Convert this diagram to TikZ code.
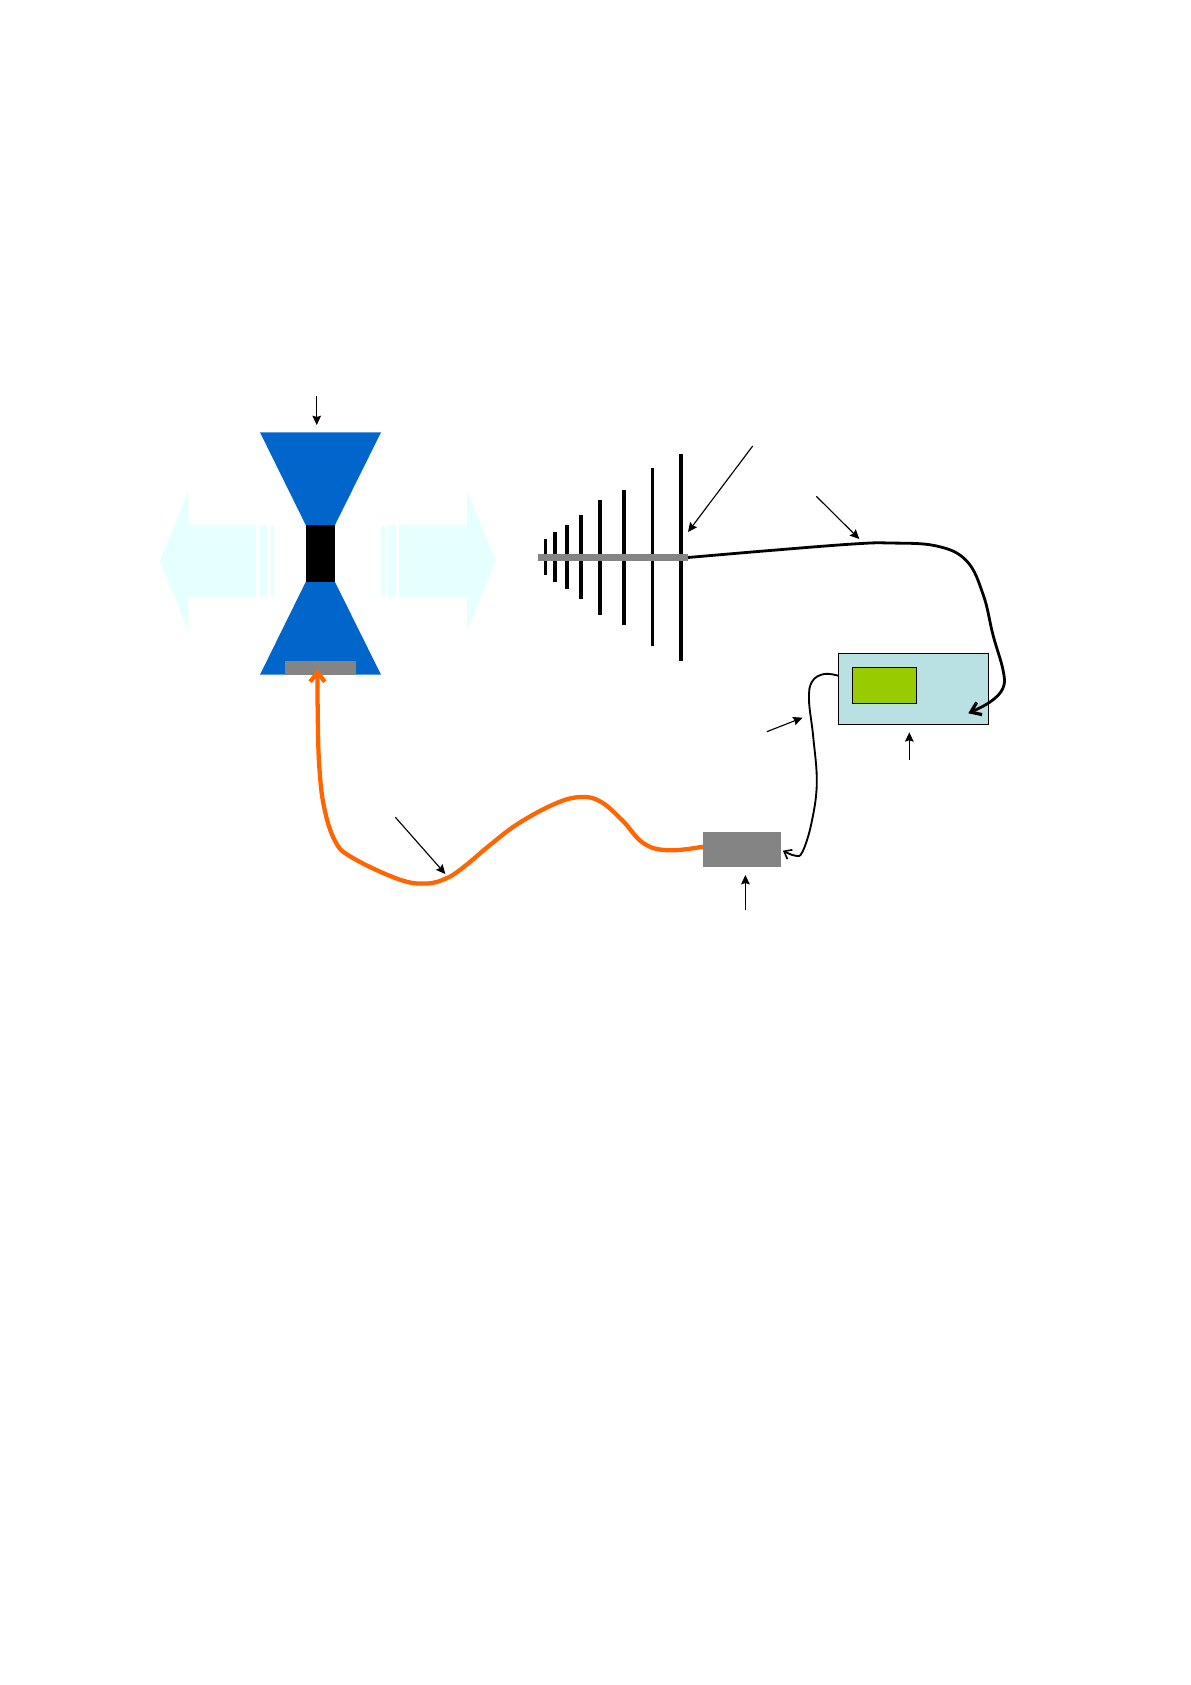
\documentclass[tikz,border=0pt]{standalone}
\usetikzlibrary{arrows.meta}
\definecolor{hornblue}{HTML}{0066CC}
\definecolor{palecyan}{HTML}{E6FFFF}
\definecolor{midgray}{HTML}{848484}
\definecolor{cableorange}{HTML}{FF6600}
\definecolor{paleteal}{HTML}{B9E0E3}
\definecolor{screengreen}{HTML}{99CC00}
\tikzset{
  x=0.75pt,y=-0.75pt,
  solidbox/.style={inner sep=0pt,outer sep=0pt,draw=none,fill=#1},
  framebox/.style={inner sep=0pt,outer sep=0pt,draw=black,line width=0.9pt,fill=#1},
  pxbox/.style 2 args={minimum width=#1*0.75pt,minimum height=#2*0.75pt},
  element/.style={draw=none,fill=black},
  pointer/.style={draw=black,line width=0.85pt,-{Stealth[length=7pt,width=6.5pt,inset=1pt]}},
  thincable/.style={draw=black,line width=1.4pt,-{Straight Barb[length=5pt,width=8pt,line width=1.2pt]}},
  thickcable/.style={draw=black,line width=2.1pt,-{Straight Barb[length=7pt,width=10pt,line width=2.4pt]}},
  orangecable/.style={draw=cableorange,line width=3.2pt,-{Straight Barb[length=7pt,width=11pt,line width=3.2pt]}},
}
\begin{document}
\begin{tikzpicture}
\useasboundingbox (0,0) rectangle (1191,1685);
\fill[white] (0,0) rectangle (1191,1685);
% pale radiation arrows
\fill[palecyan] (160,561) -- (188.3,490.7) -- (188.3,525) -- (256,525) -- (256,597) -- (188.3,597) -- (188.3,631) -- cycle;
\fill[palecyan] (260,525) rectangle (267,597);
\fill[palecyan] (270.7,525) rectangle (274,597);
\fill[palecyan] (495.7,561) -- (467,490.7) -- (467,525) -- (399,525) -- (399,597) -- (467,597) -- (467,631) -- cycle;
\fill[palecyan] (388,525) rectangle (396,597);
\fill[palecyan] (381,525) rectangle (385,597);
% horn
\fill[hornblue] (260,432.3) -- (381,432.3) -- (335,525) -- (305.7,525) -- cycle;
\fill[hornblue] (305.7,582) -- (335,582) -- (381,674.7) -- (260,674.7) -- cycle;
\node[solidbox=black,pxbox={29.3}{57}] (throat) at (320.35,553.5) {};
\node[solidbox=midgray,pxbox={71}{14}] (feed) at (320.5,668) {};
% log-periodic antenna
\fill[element] (543.8,539) rectangle (546.8,575);
\fill[element] (553,532) rectangle (557,582);
\fill[element] (565,525) rectangle (569,589);
\fill[element] (579,515) rectangle (583,599);
\fill[element] (598,499.7) rectangle (602,614.7);
\fill[element] (622,490) rectangle (626,625);
\fill[element] (650.8,468) rectangle (653.8,646);
\fill[element] (679,454) rectangle (683,661);
\node[solidbox=midgray,pxbox={150}{7}] (boom) at (613,557.5) {};
% analyser
\node[framebox=paleteal,pxbox={150}{71}] (analyser) at (913.3,688.8) {};
\node[framebox=screengreen,pxbox={64.4}{36.4}] (screen) at (884.5,685.5) {};
% grey box
\node[solidbox=midgray,pxbox={78}{35}] (amp) at (742,849.5) {};
% anchors
\coordinate (pA) at (316.7,396);
\coordinate (pAe) at (316.7,425);
\coordinate (pB) at (752.7,446);
\coordinate (pBe) at (688,532);
\coordinate (pC) at (816.3,496.3);
\coordinate (pCe) at (859.3,539);
\coordinate (pD) at (766.8,731.7);
\coordinate (pDe) at (802.5,717.7);
\coordinate (pE) at (909.3,760);
\coordinate (pEe) at (909.3,732.3);
\coordinate (pF) at (745.4,910);
\coordinate (pFe) at (745.4,875);
\coordinate (pG) at (395.4,817.3);
\coordinate (pGe) at (445.4,874);
\coordinate (cableIn) at (968.3,713.3);
\coordinate (thinOut) at (838.3,675.7);
\coordinate (ampIn) at (782.9,850.7);
\coordinate (ampOut) at (703,846.7);
\coordinate (feedIn) at (317.5,669);
\coordinate (boomOut) at (688,557.5);
% pointers
\draw[pointer] (pA) -- (pAe);
\draw[pointer] (pB) -- (pBe);
\draw[pointer] (pC) -- (pCe);
\draw[pointer] (pD) -- (pDe);
\draw[pointer] (pE) -- (pEe);
\draw[pointer] (pF) -- (pFe);
\draw[pointer] (pG) -- (pGe);
% cables
\draw[thickcable] plot[smooth,tension=0.65] coordinates {(boomOut) (770,550.5) (853,544) (890,543) (936.7,546) (966.7,561) (983.3,595) (993,635) (1003,670) (1003,688) (990,702) (cableIn)};
\draw[thincable] plot[smooth,tension=0.65] coordinates {(thinOut) (824,674) (812,681.7) (809,700) (813.2,736.7) (816.8,783.3) (811.4,823.3) (802.5,851.7) (795.4,855.7) (ampIn)};
\draw[orangecable] plot[smooth,tension=0.65] coordinates {(ampOut) (668.6,850.3) (643.6,843.3) (622,820) (600.7,801.7) (581,797) (556,803.3) (518.6,823.3) (490,845) (465,866) (447,878) (426,883.5) (398,879) (350.7,856.7) (334.6,840) (324,806.7) (319.3,766.7) (317.8,720) (feedIn)};
\end{tikzpicture}
\end{document}
